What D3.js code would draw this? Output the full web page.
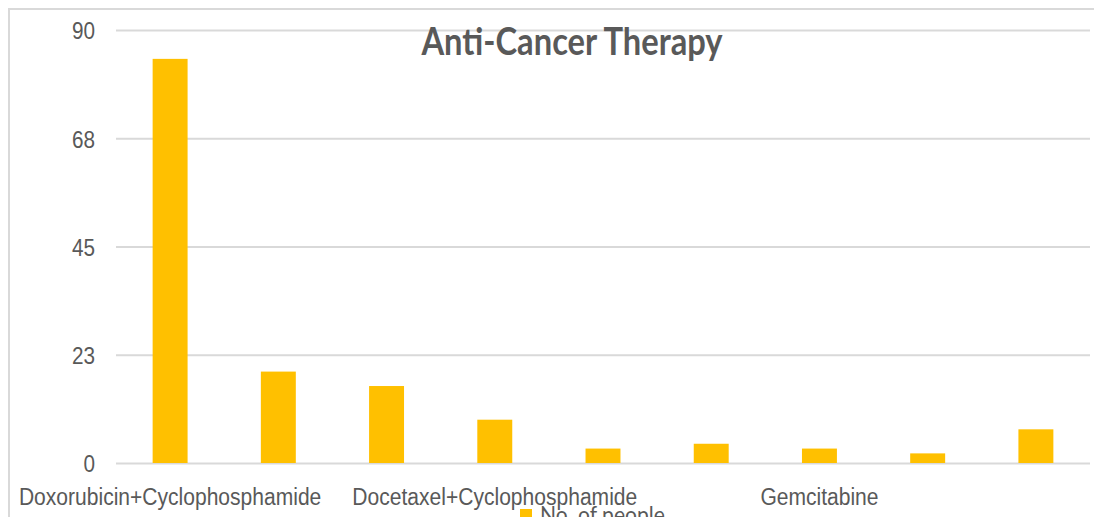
<!DOCTYPE html>
<html>
<head>
<meta charset="utf-8">
<script src="https://cdn.jsdelivr.net/npm/d3@7"></script>
<style>
  body { margin: 0; background: #fff; }
  svg { display: block; font-family: Lato, "Open Sans", sans-serif; }
</style>
</head>
<body>
<svg id="chart" width="1094" height="517"></svg>
<script>
// Chart content
const chartTitle = "Anti-Cancer Therapy";
const seriesName = "No. of people";
// Only every third category label is printed on the axis
const categoryLabels = ["Doxorubicin+Cyclophosphamide", "", "", "Docetaxel+Cyclophosphamide", "", "", "Gemcitabine", "", ""];
const peopleCounts = [84, 19, 16, 9, 3, 4, 3, 2, 7];
const yTickValues = [0, 22.5, 45, 67.5, 90];
const yTickLabels = ["0", "23", "45", "68", "90"];

const svg = d3.select("#chart");
const textColor = "#595959";
const gridColor = "#d9d9d9";
const barColor = "#FFC000";

const plot = { left: 116, right: 1090, top: 30, bottom: 463 };

// narrow the glyphs of a text selection by a constant factor
function condense(sel, factor) {
  sel.each(function () {
    const w = this.getComputedTextLength();
    if (w > 0) {
      d3.select(this)
        .attr("textLength", w * factor)
        .attr("lengthAdjust", "spacingAndGlyphs");
    }
  });
}

const x = d3.scaleBand()
  .domain(d3.range(peopleCounts.length))
  .range([plot.left, plot.right])
  .padding(0);

const y = d3.scaleLinear()
  .domain([0, 90])
  .range([plot.bottom, plot.top]);

// outer chart frame
svg.append("rect")
  .attr("x", 9).attr("y", 9)
  .attr("width", 1200).attr("height", 700)
  .attr("fill", "none")
  .attr("stroke", gridColor)
  .attr("stroke-width", 2);

// value axis with horizontal gridlines
const yAxis = svg.append("g")
  .attr("transform", `translate(${plot.left},0)`)
  .call(d3.axisLeft(y)
    .tickValues(yTickValues)
    .tickFormat((d, i) => yTickLabels[i])
    .tickSize(-(plot.right - plot.left))
    .tickPadding(21));
yAxis.select(".domain").remove();
yAxis.selectAll(".tick line")
  .attr("stroke", gridColor)
  .attr("stroke-width", 2);
yAxis.selectAll(".tick text")
  .attr("fill", textColor)
  .attr("font-size", 23)
  .attr("dy", "0.38em")
  .call(condense, 0.9);

// bars
const barWidth = x.bandwidth() * 0.323;
svg.append("g")
  .selectAll("rect")
  .data(peopleCounts)
  .join("rect")
  .attr("x", (d, i) => x(i) + (x.bandwidth() - barWidth) / 2)
  .attr("y", d => y(d))
  .attr("width", barWidth)
  .attr("height", d => y(0) - y(d))
  .attr("fill", barColor);

// category axis
const xAxis = svg.append("g")
  .attr("transform", `translate(0,${plot.bottom})`)
  .call(d3.axisBottom(x)
    .tickFormat(i => categoryLabels[i])
    .tickSize(0)
    .tickPadding(26));
xAxis.select(".domain").remove();
xAxis.selectAll(".tick text")
  .attr("fill", textColor)
  .attr("font-size", 23)
  .call(condense, 0.915);

// title
svg.append("text")
  .attr("x", 572)
  .attr("y", 55)
  .attr("text-anchor", "middle")
  .attr("font-weight", "bold")
  .attr("font-size", 38)
  .attr("fill", textColor)
  .text(chartTitle)
  .call(condense, 0.86);

// legend
const legend = svg.append("g").attr("transform", "translate(520,509)");
legend.append("rect")
  .attr("width", 12).attr("height", 12)
  .attr("fill", barColor);
legend.append("text")
  .attr("x", 20)
  .attr("y", 14)
  .attr("font-size", 23)
  .attr("fill", textColor)
  .text(seriesName)
  .call(condense, 0.915);
</script>
</body>
</html>
